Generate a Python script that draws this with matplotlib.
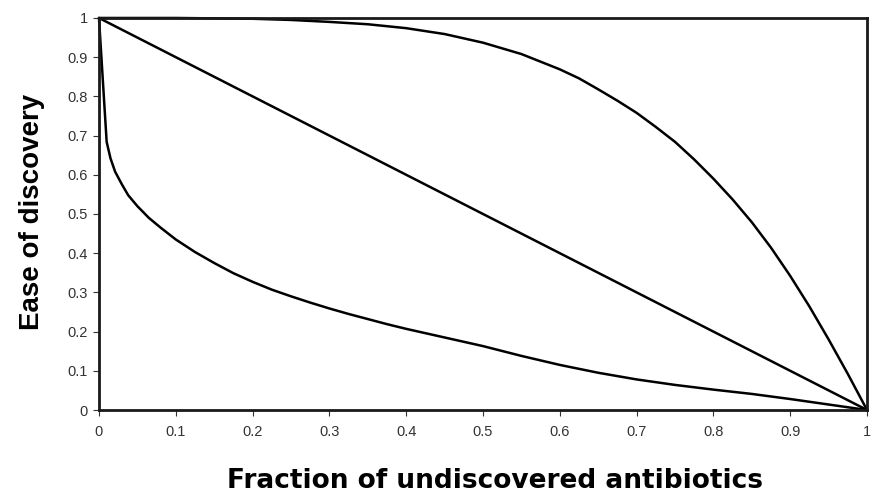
import matplotlib
matplotlib.use("Agg")
import matplotlib.pyplot as plt

plt.rcParams['font.family'] = ['Liberation Sans', 'DejaVu Sans']

# Upper (concave) curve
upper_x = [0.0, 0.05, 0.1, 0.15, 0.2, 0.25, 0.3, 0.35, 0.4, 0.45, 0.5, 0.55, 0.6, 0.625,
           0.65, 0.675, 0.7, 0.725, 0.75, 0.775, 0.8, 0.825, 0.85, 0.875, 0.9, 0.925,
           0.95, 0.975, 1.0]
upper_y = [1.0, 1.0, 1.0, 0.999, 0.998, 0.995, 0.99, 0.984, 0.974, 0.959, 0.937, 0.908,
           0.869, 0.846, 0.818, 0.789, 0.758, 0.722, 0.684, 0.639, 0.59, 0.537, 0.479,
           0.414, 0.342, 0.264, 0.18, 0.092, 0.0]

# Straight diagonal line
diag_x = [0.0, 1.0]
diag_y = [1.0, 0.0]

# Lower (convex) curve
lower_x = [0.0, 0.01, 0.015, 0.021, 0.03, 0.038, 0.05, 0.065, 0.081, 0.1, 0.125, 0.15,
           0.175, 0.2, 0.225, 0.25, 0.275, 0.3, 0.325, 0.35, 0.375, 0.4, 0.425, 0.45,
           0.475, 0.5, 0.55, 0.6, 0.65, 0.7, 0.75, 0.8, 0.85, 0.9, 0.95, 1.0]
lower_y = [1.0, 0.684, 0.642, 0.608, 0.575, 0.548, 0.52, 0.49, 0.464, 0.435, 0.403, 0.375,
           0.349, 0.327, 0.307, 0.290, 0.274, 0.259, 0.245, 0.232, 0.219, 0.207, 0.196,
           0.185, 0.174, 0.163, 0.138, 0.115, 0.095, 0.078, 0.064, 0.052, 0.041, 0.028,
           0.014, 0.0]

xticks = [0, 0.1, 0.2, 0.3, 0.4, 0.5, 0.6, 0.7, 0.8, 0.9, 1]
xtick_labels = ['0', '0.1', '0.2', '0.3', '0.4', '0.5', '0.6', '0.7', '0.8', '0.9', '1']
yticks = [0, 0.1, 0.2, 0.3, 0.4, 0.5, 0.6, 0.7, 0.8, 0.9, 1]
ytick_labels = ['0', '0.1', '0.2', '0.3', '0.4', '0.5', '0.6', '0.7', '0.8', '0.9', '1']

fig = plt.figure(figsize=(8.72, 4.98), dpi=100)
ax = fig.add_axes([0.1135, 0.1767, 0.8808, 0.7872])

for xs, ys in [(upper_x, upper_y), (diag_x, diag_y), (lower_x, lower_y)]:
    ax.plot(xs, ys, color='black', lw=1.8, clip_on=False,
            solid_joinstyle='round', solid_capstyle='round')

ax.set_xlim(0, 1)
ax.set_ylim(0, 1)
ax.set_xticks(xticks)
ax.set_xticklabels(xtick_labels)
ax.set_yticks(yticks)
ax.set_yticklabels(ytick_labels)
ax.tick_params(direction='out', length=4, width=0.8, labelsize=10.5, colors='#333333', pad=7)
ax.tick_params(axis='y', pad=4)
for s in ax.spines.values():
    s.set_linewidth(2.0)
    s.set_color('#1a1a1a')

fig.text(0.568, 0.035, 'Fraction of undiscovered antibiotics', ha='center', va='center',
         fontsize=19, fontweight='bold', family=['DejaVu Sans'])
fig.text(0.037, 0.574, 'Ease of discovery', ha='center', va='center', rotation=90,
         fontsize=20, fontweight='bold')

fig.savefig('out.png', dpi=100)
